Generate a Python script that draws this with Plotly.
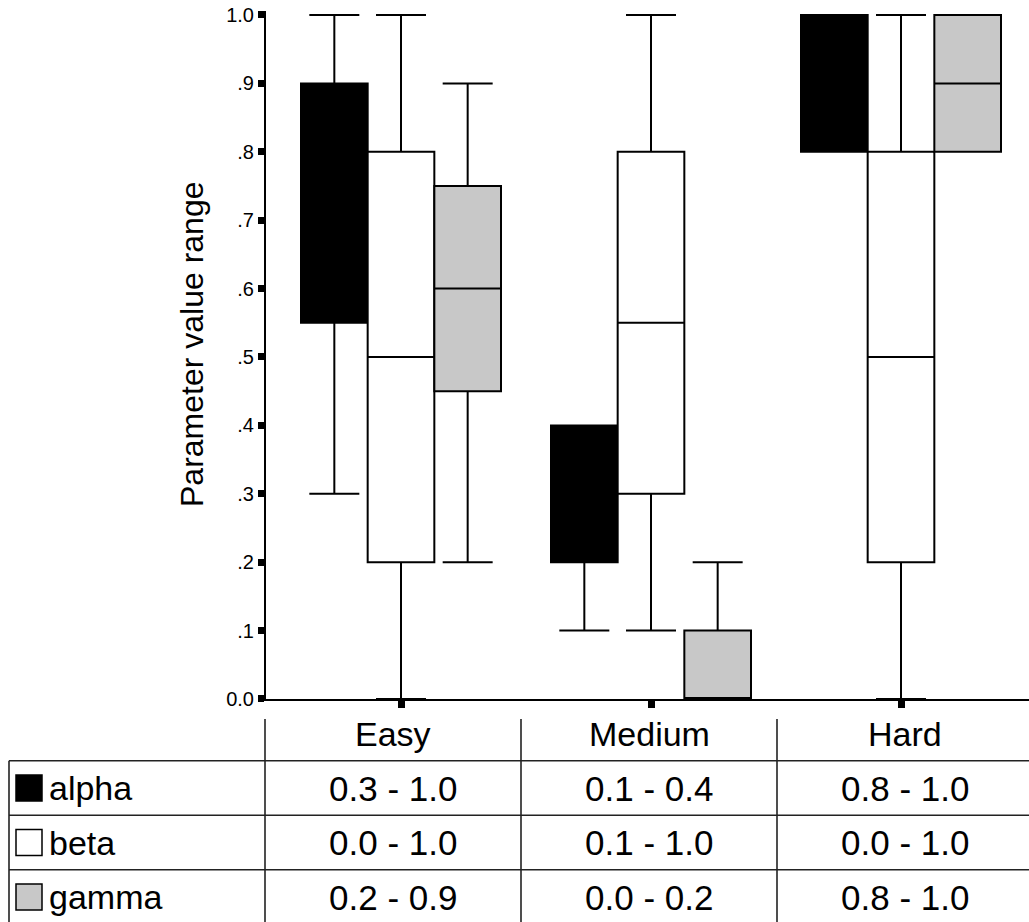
import plotly.graph_objects as go

# ---------------- data ----------------
categories = ["Easy", "Medium", "Hard"]
series_names = ["alpha", "beta", "gamma"]
series_colors = ["#000000", "#ffffff", "#c8c8c8"]

alpha_low = [0.3, 0.1, 0.8]
alpha_q1 = [0.55, 0.2, 0.8]
alpha_med = [0.75, 0.3, 0.9]
alpha_q3 = [0.9, 0.4, 1.0]
alpha_high = [1.0, 0.4, 1.0]

beta_low = [0.0, 0.1, 0.0]
beta_q1 = [0.2, 0.3, 0.2]
beta_med = [0.5, 0.55, 0.5]
beta_q3 = [0.8, 0.8, 0.8]
beta_high = [1.0, 1.0, 1.0]

gamma_low = [0.2, 0.0, 0.8]
gamma_q1 = [0.45, 0.0, 0.8]
gamma_med = [0.6, 0.0, 0.9]
gamma_q3 = [0.75, 0.1, 1.0]
gamma_high = [0.9, 0.2, 1.0]

y_tickvals = [0.0, 0.1, 0.2, 0.3, 0.4, 0.5, 0.6, 0.7, 0.8, 0.9, 1.0]
y_ticktext = ["0.0", ".1", ".2", ".3", ".4", ".5", ".6", ".7", ".8", ".9", "1.0"]
y_title = "Parameter value range"

stats = [
    (alpha_low, alpha_q1, alpha_med, alpha_q3, alpha_high),
    (beta_low, beta_q1, beta_med, beta_q3, beta_high),
    (gamma_low, gamma_q1, gamma_med, gamma_q3, gamma_high),
]

# ---------------- layout constants (pixels) ----------------
W, H = 1029, 922
FONT = "Liberation Sans, Arial, Helvetica, sans-serif"

# main plot
plot_left, plot_right = 266, 1029
zero_px = 699.0
px_per_unit_y = 684.0
y_max = 1.006
y_min = 0.0
cat_px = 250.0
first_cat_px = 401.0

# table
col_w = 256.0
first_col_center = 393.0
row_h = 54.5
row0_center = 733.5
table_top_px = 712
table_line_top = 719
table_left_px = 9

fig = go.Figure()

for name, color, (lo, q1, md, q3, hi) in zip(series_names, series_colors, stats):
    fig.add_trace(go.Box(
        x=categories, lowerfence=lo, q1=q1, median=md, q3=q3, upperfence=hi,
        name=name, fillcolor=color, line=dict(color="black", width=2),
        whiskerwidth=0.75, boxpoints=False, hoverinfo="skip",
        xaxis="x", yaxis="y", showlegend=False,
    ))

# ---- table on its own axes ----
x2_min = (0 - first_col_center) / col_w
x2_max = (W - first_col_center) / col_w
y2_top = (table_top_px - row0_center) / row_h
y2_bot = (H - row0_center) / row_h
label_col = -1
left_border = label_col - 0.5 + (table_left_px - (first_col_center - 1.5 * col_w)) / col_w

# legend swatches
swatch_x = left_border + 20 / col_w
fig.add_trace(go.Scatter(
    x=[swatch_x] * len(series_names), y=list(range(1, len(series_names) + 1)),
    mode="markers", xaxis="x2", yaxis="y2", showlegend=False, hoverinfo="skip",
    cliponaxis=False,
    marker=dict(symbol="square", size=26, color=series_colors,
                line=dict(color="black", width=1.5)),
))

annotations = []
# header
for i, c in enumerate(categories):
    annotations.append(dict(x=i, y=0.0, xref="x2", yref="y2", text=c, showarrow=False,
                            font=dict(size=34, color="black", family=FONT),
                            xanchor="center", yanchor="middle"))
# row labels and values
label_x = left_border + 38 / col_w
for r, (name, (lo, q1, md, q3, hi)) in enumerate(zip(series_names, stats), start=1):
    annotations.append(dict(x=label_x, y=r, xref="x2", yref="y2", text=name, showarrow=False,
                            font=dict(size=34, color="black", family=FONT),
                            xanchor="left", yanchor="middle"))
    for i in range(len(categories)):
        annotations.append(dict(x=i, y=r, xref="x2", yref="y2",
                                text=f"{lo[i]:.1f} - {hi[i]:.1f}", showarrow=False,
                                font=dict(size=35, color="black", family=FONT),
                                xanchor="center", yanchor="middle"))

# y-axis title
annotations.append(dict(x=192 / W, y=(H - 344) / H, xref="paper", yref="paper",
                        text=y_title, textangle=-90, showarrow=False,
                        font=dict(size=32, color="black", family=FONT),
                        xanchor="center", yanchor="middle"))

shapes = []
line_style = dict(color="#222222", width=1.6)
n_rows = len(series_names)
for k in range(n_rows):
    yb = k + 0.5
    shapes.append(dict(type="line", xref="x2", yref="y2", x0=left_border, x1=x2_max,
                       y0=yb, y1=yb, line=line_style))
shapes.append(dict(type="line", xref="x2", yref="y2", x0=left_border, x1=left_border,
                   y0=0.5, y1=y2_bot, line=line_style))
line_top_r = (table_line_top - row0_center) / row_h
for i in range(len(categories)):
    xb = i - 0.5
    shapes.append(dict(type="line", xref="x2", yref="y2", x0=xb, x1=xb,
                       y0=line_top_r, y1=y2_bot, line=line_style))

x_lo = (plot_left - first_cat_px) / cat_px
x_hi = (plot_right - first_cat_px) / cat_px
y_dom_bot_px = zero_px - y_min * px_per_unit_y
y_dom_top_px = zero_px - y_max * px_per_unit_y

fig.update_layout(
    width=W, height=H, autosize=False,
    margin=dict(l=0, r=0, t=0, b=0, pad=0, autoexpand=False),
    paper_bgcolor="white", plot_bgcolor="white",
    boxmode="group", boxgap=0.2, boxgroupgap=0,
    showlegend=False,
    font=dict(family=FONT, color="black"),
    xaxis=dict(domain=[plot_left / W, plot_right / W], range=[x_lo, x_hi],
               type="category", showgrid=False, zeroline=False, automargin=False,
               showline=True, linecolor="black", linewidth=2,
               ticks="outside", ticklen=7, tickwidth=7, tickcolor="black",
               showticklabels=False, anchor="y"),
    yaxis=dict(domain=[(H - y_dom_bot_px) / H, (H - y_dom_top_px) / H], range=[y_min, y_max],
               showgrid=False, zeroline=False, automargin=False,
               showline=True, linecolor="black", linewidth=2,
               ticks="outside", ticklen=6, tickwidth=7, tickcolor="black",
               tickvals=y_tickvals, ticktext=y_ticktext,
               tickfont=dict(size=20, color="black", family=FONT), anchor="x"),
    xaxis2=dict(domain=[0, 1], range=[x2_min, x2_max], visible=False, anchor="y2",
                fixedrange=True, automargin=False),
    yaxis2=dict(domain=[0, (H - table_top_px) / H], range=[y2_bot, y2_top], visible=False,
                anchor="x2", fixedrange=True, automargin=False),
    annotations=annotations,
    shapes=shapes,
)

fig.write_html(
    "out.html",
    config={"displayModeBar": False, "displaylogo": False},
    post_script="document.body.style.margin='0';document.body.style.overflow='hidden';"
                "document.documentElement.style.overflow='hidden';",
)
